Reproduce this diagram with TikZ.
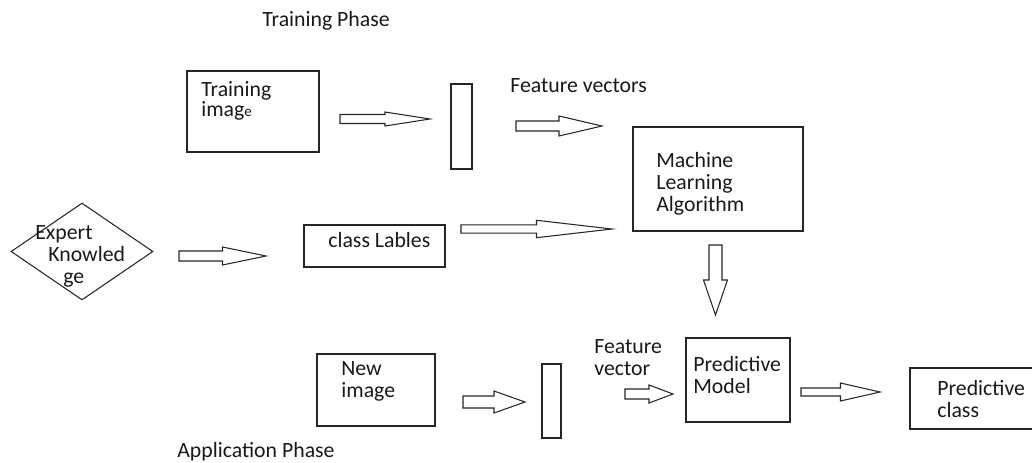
\documentclass[tikz,border=0pt]{standalone}
\usepackage{fontspec}
\setmainfont{Carlito}
\usetikzlibrary{calc,fit,shapes.geometric}

% open block arrow from #1 to #2, half shaft width #3, half head width #4
\newcommand{\hollowarrow}[4]{%
  \coordinate (#1-#2) at ($(#1)!0.5!(#2)$);
  \draw[blockline] ($(#1)!#3*0.02cm!90:(#2)$)
    -- ($(#1-#2)!#3*0.02cm!90:(#2)$)
    -- ($(#1-#2)!#4*0.02cm!90:(#2)$)
    -- (#2)
    -- ($(#1-#2)!#4*0.02cm!-90:(#2)$)
    -- ($(#1-#2)!#3*0.02cm!-90:(#2)$)
    -- ($(#1)!#3*0.02cm!-90:(#2)$) -- cycle;}

\begin{document}
\begin{tikzpicture}[x=0.02cm, y=-0.02cm,
    box/.style={draw=black!85, line width=0.6pt, inner sep=0pt},
    blockline/.style={draw=black!85, line width=0.6pt, line join=miter},
    txt/.style={font=\fontsize{12.4}{12.5}\selectfont, inner sep=0pt, align=left, anchor=base west, text=black!90}]
    \useasboundingbox (0,0) rectangle (1032,463);
    \clip (0,0) rectangle (1032,463);

    % boxes
    \node[box, fit={(187,71) (319,152)}] (trainimg) {};
    \node[box, fit={(451,84) (472,169)}] (trainvec) {};
    \node[box, fit={(633,127) (803,231)}] (mlalgo) {};
    \node[box, fit={(304,225) (445,267)}] (labels) {};
    \node[box, diamond, minimum width=2.84cm, minimum height=1.94cm] (expert) at (82,251.5) {};
    \node[box, fit={(317,354) (435,426)}] (newimg) {};
    \node[box, fit={(542,364) (561,438)}] (newvec) {};
    \node[box, fit={(686,338) (790,422)}] (predmodel) {};
    \node[box, fit={(910,368) (1040,429)}] (predclass) {};

    % texts (base = baseline of the last line)
    \node[txt] (trainphase) at (262,27) {Training Phase};
    \node[txt] (appphase) at (177,457.5) {Application Phase};
    \node[txt, font=\fontsize{12.4}{11.3}\selectfont] (traintxt) at (201,116) {Training\\imag{\fontsize{8.5}{8}\selectfont e}};
    \node[txt] (fvectors) at (510,92) {Feature vectors};
    \node[txt] (mltxt) at (656,211) {Machine\\Learning\\Algorithm};
    \node[txt] (lbltxt) at (328,247) {class Lables};
    \node[txt] (experttxt) at (35,283) {Expert\\\hspace*{7.4pt}Knowled\\\hspace*{15.9pt}ge};
    \node[txt] (newtxt) at (341,397) {New\\image};
    \node[txt] (fvector) at (594,375) {Feature\\vector};
    \node[txt] (pmtxt) at (693,393) {Predictive\\Model};
    \node[txt] (pctxt) at (937,417) {Predictive\\class};

    % arrow ends
    \coordinate (img-s) at (340,119);   \coordinate (img-e) at (430,119);
    \coordinate (vec-s) at (516,126);   \coordinate (vec-e) at (602,126);
    \coordinate (lbl-s) at (461,229);   \coordinate (lbl-e) at (612,229);
    \coordinate (exp-s) at (179,256);   \coordinate (exp-e) at (266,256);
    \coordinate (ml-s) at (715.5,245);  \coordinate (ml-e) at (715.5,315);
    \coordinate (new-s) at (463,402);   \coordinate (new-e) at (525,402);
    \coordinate (fv-s) at (625,394);    \coordinate (fv-e) at (673,394);
    \coordinate (pm-s) at (801,392);    \coordinate (pm-e) at (880,392);

    \hollowarrow{img-s}{img-e}{4.5}{7}
    \hollowarrow{vec-s}{vec-e}{5}{10}
    \hollowarrow{lbl-s}{lbl-e}{4.2}{8.7}
    \hollowarrow{exp-s}{exp-e}{5}{9}
    \hollowarrow{ml-s}{ml-e}{6.5}{12}
    \hollowarrow{new-s}{new-e}{6}{11}
    \hollowarrow{fv-s}{fv-e}{5}{9}
    \hollowarrow{pm-s}{pm-e}{4}{9}
\end{tikzpicture}
\end{document}
